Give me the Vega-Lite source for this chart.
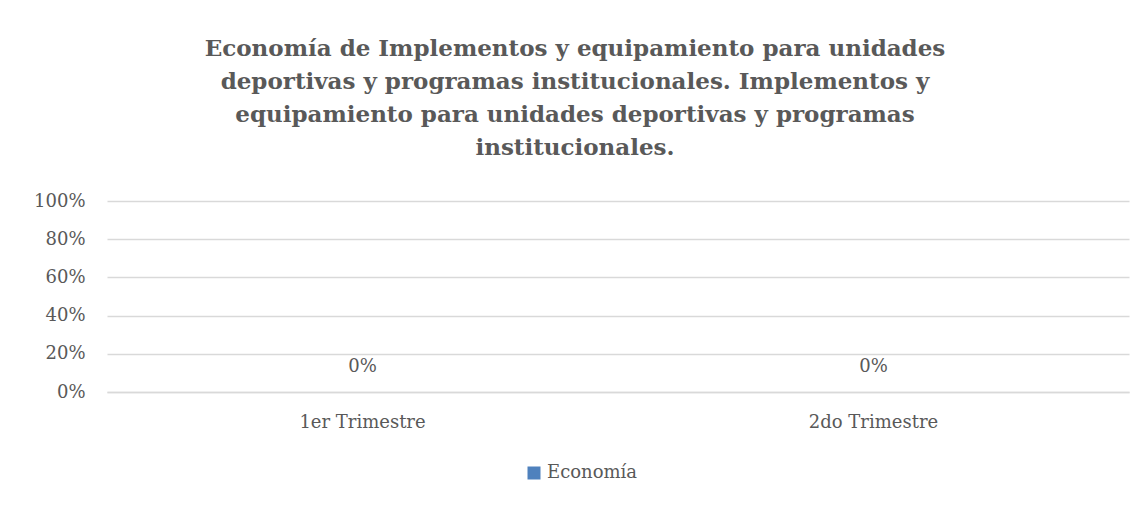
{
  "$schema": "https://vega.github.io/schema/vega-lite/v6.json",
  "autosize": {"type": "none"},
  "width": 1022,
  "height": 191,
  "padding": {"left": 107, "top": 201, "right": 14, "bottom": 114},
  "background": "white",
  "title": {
    "text": [
      "Economía de Implementos y equipamiento para unidades",
      "deportivas y programas institucionales. Implementos y",
      "equipamiento para unidades deportivas y programas",
      "institucionales."
    ],
    "font": "DejaVu Serif",
    "fontSize": 23,
    "fontWeight": "bold",
    "color": "#595959",
    "lineHeight": 33,
    "anchor": "middle",
    "offset": 32,
    "dx": -43
  },
  "data": {
    "values": [
      {"Trimestre": "1er Trimestre", "Serie": "Economía", "Valor": 0},
      {"Trimestre": "2do Trimestre", "Serie": "Economía", "Valor": 0}
    ]
  },
  "encoding": {
    "x": {
      "field": "Trimestre",
      "type": "nominal",
      "sort": null,
      "title": null,
      "axis": {
        "labelAngle": 0,
        "ticks": false,
        "tickSize": 0,
        "labelPadding": 21,
        "domainColor": "#d9d9d9",
        "domainWidth": 1.5,
        "grid": false
      }
    },
    "y": {
      "field": "Valor",
      "type": "quantitative",
      "title": null,
      "scale": {"domain": [0, 1]},
      "axis": {
        "values": [0, 0.2, 0.4, 0.6, 0.8, 1],
        "format": ".0%",
        "domain": false,
        "ticks": false,
        "tickSize": 0,
        "labelPadding": 22,
        "gridColor": "#d9d9d9",
        "gridWidth": 1.5
      }
    }
  },
  "layer": [
    {
      "mark": {"type": "bar", "color": "#4F81BD"},
      "encoding": {
        "color": {
          "field": "Serie",
          "type": "nominal",
          "scale": {"range": ["#4F81BD"]},
          "legend": {
            "title": null,
            "orient": "none",
            "legendX": 418,
            "legendY": 263,
            "symbolType": "square",
            "symbolSize": 169,
            "symbolStrokeWidth": 0
          }
        }
      }
    },
    {
      "mark": {
        "type": "text",
        "font": "DejaVu Serif",
        "fontSize": 18,
        "color": "#595959",
        "baseline": "middle",
        "dy": -25
      },
      "encoding": {
        "text": {"field": "Valor", "type": "quantitative", "format": ".0%"}
      }
    }
  ],
  "config": {
    "view": {"stroke": null},
    "axis": {
      "labelFont": "DejaVu Serif",
      "labelFontSize": 18,
      "labelColor": "#595959"
    },
    "legend": {
      "labelFont": "DejaVu Serif",
      "labelFontSize": 18,
      "labelColor": "#595959"
    }
  }
}
